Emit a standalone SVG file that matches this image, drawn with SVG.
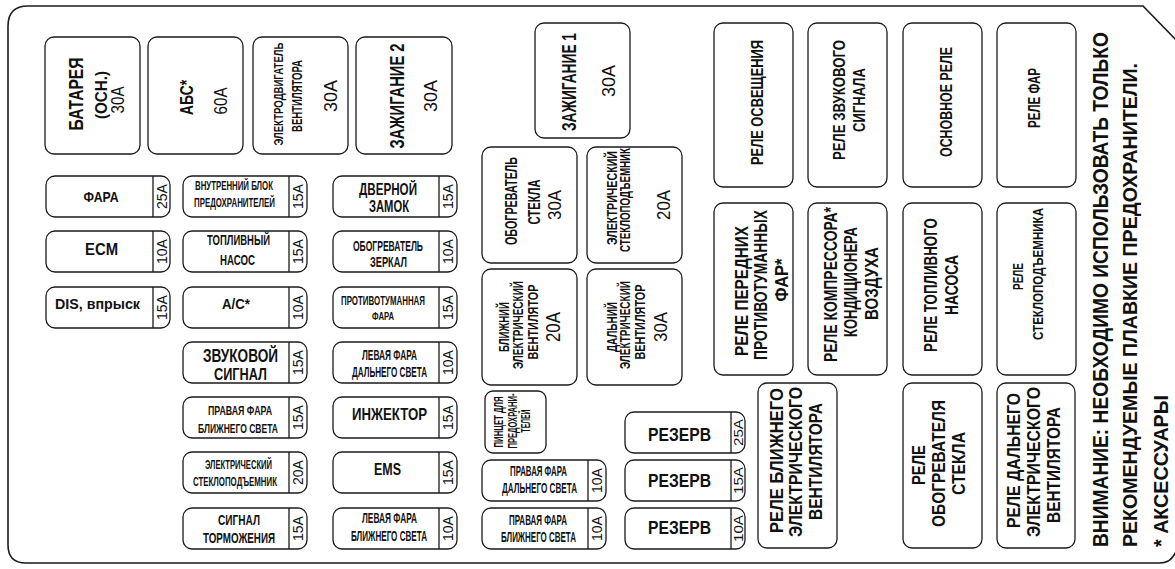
<svg xmlns="http://www.w3.org/2000/svg" width="1175" height="569" viewBox="0 0 1175 569">
<style>
.box{fill:#fff;stroke:#1a1a1a;stroke-width:1.3}
.dv{stroke:#1a1a1a;stroke-width:1.3}
.frame{fill:none;stroke:#1a1a1a;stroke-width:1.6}
text{font-family:"Liberation Sans",Arial,sans-serif;fill:#111}
.b{font-weight:bold}
.m{text-anchor:middle}
.a{font-size:15px;text-anchor:middle}
</style>
<rect width="1175" height="569" fill="#fff"/>
<path class="frame" d="M8,26 Q8,6 28,6 H1143 L1178,42 V545 Q1174,563 1160,563 H26 Q8,563 8,545 Z"/>

<!-- big fuses -->
<g id="fuse-battery">
<rect class="box" x="45" y="37" width="95" height="117" rx="9"/>
<text class="b m" x="83" y="94" transform="rotate(-90 83 94)" font-size="20" textLength="73" lengthAdjust="spacingAndGlyphs">БАТАРЕЯ</text>
<text class="b m" x="107" y="95" transform="rotate(-90 107 95)" font-size="16" textLength="48" lengthAdjust="spacingAndGlyphs">(ОСН.)</text>
<text class="m" x="124" y="100" transform="rotate(-90 124 100)" font-size="19" textLength="27" lengthAdjust="spacingAndGlyphs">30A</text>
</g>
<g id="fuse-abs">
<rect class="box" x="148" y="37" width="95" height="117" rx="9"/>
<text class="b m" x="193" y="97.5" transform="rotate(-90 193 97.5)" font-size="18" textLength="35" lengthAdjust="spacingAndGlyphs">АБС*</text>
<text class="m" x="227" y="101" transform="rotate(-90 227 101)" font-size="19" textLength="27" lengthAdjust="spacingAndGlyphs">60A</text>
</g>
<g id="fuse-fan-motor">
<rect class="box" x="253" y="37" width="95" height="117" rx="9"/>
<text class="b m" x="283" y="94" transform="rotate(-90 283 94)" font-size="13" textLength="103" lengthAdjust="spacingAndGlyphs">ЭЛЕКТРОДВИГАТЕЛЬ</text>
<text class="b m" x="302" y="96" transform="rotate(-90 302 96)" font-size="14" textLength="72" lengthAdjust="spacingAndGlyphs">ВЕНТИЛЯТОРА</text>
<text class="m" x="337" y="96" transform="rotate(-90 337 96)" font-size="19" textLength="32" lengthAdjust="spacingAndGlyphs">30A</text>
</g>
<g id="fuse-ign2">
<rect class="box" x="356" y="37" width="96" height="117" rx="9"/>
<text class="b m" x="404" y="96" transform="rotate(-90 404 96)" font-size="21" textLength="105" lengthAdjust="spacingAndGlyphs">ЗАЖИГАНИЕ 2</text>
<text class="m" x="437" y="96" transform="rotate(-90 437 96)" font-size="19" textLength="32" lengthAdjust="spacingAndGlyphs">30A</text>
</g>
<g id="fuse-ign1">
<rect class="box" x="535" y="23" width="95" height="115" rx="9"/>
<text class="b m" x="576" y="82" transform="rotate(-90 576 82)" font-size="21" textLength="98" lengthAdjust="spacingAndGlyphs">ЗАЖИГАНИЕ 1</text>
<text class="m" x="615" y="81" transform="rotate(-90 615 81)" font-size="18" textLength="32" lengthAdjust="spacingAndGlyphs">30A</text>
</g>
<g id="fuse-defrost">
<rect class="box" x="482" y="147" width="95" height="116" rx="9"/>
<text class="b m" x="517" y="201" transform="rotate(-90 517 201)" font-size="17" textLength="88" lengthAdjust="spacingAndGlyphs">ОБОГРЕВАТЕЛЬ</text>
<text class="b m" x="540" y="202" transform="rotate(-90 540 202)" font-size="17" textLength="45" lengthAdjust="spacingAndGlyphs">СТЕКЛА</text>
<text class="m" x="561" y="205" transform="rotate(-90 561 205)" font-size="18" textLength="30" lengthAdjust="spacingAndGlyphs">30A</text>
</g>
<g id="fuse-power-window">
<rect class="box" x="587" y="147" width="95" height="116" rx="9"/>
<text class="b m" x="617" y="198" transform="rotate(-90 617 198)" font-size="14" textLength="94" lengthAdjust="spacingAndGlyphs">ЭЛЕКТРИЧЕСКИЙ</text>
<text class="b m" x="630" y="200" transform="rotate(-90 630 200)" font-size="14" textLength="104" lengthAdjust="spacingAndGlyphs">СТЕКЛОПОДЪЕМНИК</text>
<text class="m" x="670" y="205" transform="rotate(-90 670 205)" font-size="18" textLength="30" lengthAdjust="spacingAndGlyphs">20A</text>
</g>
<g id="fuse-fan-near">
<rect class="box" x="482" y="269" width="95" height="116" rx="9"/>
<text class="b m" x="509" y="327" transform="rotate(-90 509 327)" font-size="14" textLength="50" lengthAdjust="spacingAndGlyphs">БЛИЖНИЙ</text>
<text class="b m" x="523" y="325" transform="rotate(-90 523 325)" font-size="14" textLength="88" lengthAdjust="spacingAndGlyphs">ЭЛЕКТРИЧЕСКИЙ</text>
<text class="b m" x="538" y="322" transform="rotate(-90 538 322)" font-size="14" textLength="75" lengthAdjust="spacingAndGlyphs">ВЕНТИЛЯТОР</text>
<text class="m" x="560" y="327" transform="rotate(-90 560 327)" font-size="20" textLength="30" lengthAdjust="spacingAndGlyphs">20A</text>
</g>
<g id="fuse-fan-far">
<rect class="box" x="587" y="269" width="95" height="116" rx="9"/>
<text class="b m" x="617" y="327" transform="rotate(-90 617 327)" font-size="14" textLength="50" lengthAdjust="spacingAndGlyphs">ДАЛЬНИЙ</text>
<text class="b m" x="630" y="325" transform="rotate(-90 630 325)" font-size="14" textLength="88" lengthAdjust="spacingAndGlyphs">ЭЛЕКТРИЧЕСКИЙ</text>
<text class="b m" x="645" y="322" transform="rotate(-90 645 322)" font-size="14" textLength="75" lengthAdjust="spacingAndGlyphs">ВЕНТИЛЯТОР</text>
<text class="m" x="667" y="327" transform="rotate(-90 667 327)" font-size="19" textLength="30" lengthAdjust="spacingAndGlyphs">30A</text>
</g>
<g id="fuse-puller">
<rect class="box" x="485" y="391" width="61" height="62" rx="8"/>
<text class="b m" x="503" y="422" transform="rotate(-90 503 422)" font-size="12" textLength="51" lengthAdjust="spacingAndGlyphs">ПИНЦЕТ ДЛЯ</text>
<text class="b m" x="517" y="421" transform="rotate(-90 517 421)" font-size="12" textLength="55" lengthAdjust="spacingAndGlyphs">ПРЕДОХРАНИ-</text>
<text class="b m" x="530" y="421" transform="rotate(-90 530 421)" font-size="12" textLength="23" lengthAdjust="spacingAndGlyphs">ТЕЛЕЙ</text>
</g>

<!-- column 1 small fuses -->
<g id="fuse-headlamp">
<rect class="box" x="46" y="176" width="124" height="41" rx="9"/><line class="dv" x1="153" y1="176" x2="153" y2="217"/>
<text class="b m" x="101" y="202" font-size="15" textLength="35" lengthAdjust="spacingAndGlyphs">ФАРА</text>
<text class="a" x="167" y="196.5" transform="rotate(-90 167 196.5)" textLength="25" lengthAdjust="spacingAndGlyphs">25A</text>
</g>
<g id="fuse-ecm">
<rect class="box" x="46" y="231" width="124" height="41" rx="9"/><line class="dv" x1="153" y1="231" x2="153" y2="272"/>
<text class="b m" x="101.5" y="255" font-size="16" textLength="33" lengthAdjust="spacingAndGlyphs">ECM</text>
<text class="a" x="167" y="251.5" transform="rotate(-90 167 251.5)" textLength="25" lengthAdjust="spacingAndGlyphs">10A</text>
</g>
<g id="fuse-dis">
<rect class="box" x="46" y="287" width="124" height="41" rx="9"/><line class="dv" x1="153" y1="287" x2="153" y2="328"/>
<text class="b m" x="97.5" y="309" font-size="15" textLength="85" lengthAdjust="spacingAndGlyphs">DIS, впрыск</text>
<text class="a" x="167" y="307.5" transform="rotate(-90 167 307.5)" textLength="25" lengthAdjust="spacingAndGlyphs">15A</text>
</g>

<!-- column 2 -->
<g id="fuse-inner-block">
<rect class="box" x="183" y="176" width="124" height="41" rx="9"/><line class="dv" x1="289" y1="176" x2="289" y2="217"/>
<text class="b m" x="234" y="190" font-size="12" textLength="78" lengthAdjust="spacingAndGlyphs">ВНУТРЕННИЙ БЛОК</text>
<text class="b m" x="234.5" y="207" font-size="12" textLength="81" lengthAdjust="spacingAndGlyphs">ПРЕДОХРАНИТЕЛЕЙ</text>
<text class="a" x="303" y="196.5" transform="rotate(-90 303 196.5)" textLength="25" lengthAdjust="spacingAndGlyphs">15A</text>
</g>
<g id="fuse-fuel-pump">
<rect class="box" x="183" y="231" width="124" height="41" rx="9"/><line class="dv" x1="289" y1="231" x2="289" y2="272"/>
<text class="b m" x="238.5" y="245" font-size="15" textLength="63" lengthAdjust="spacingAndGlyphs">ТОПЛИВНЫЙ</text>
<text class="b m" x="237.5" y="265" font-size="15" textLength="35" lengthAdjust="spacingAndGlyphs">НАСОС</text>
<text class="a" x="303" y="251.5" transform="rotate(-90 303 251.5)" textLength="25" lengthAdjust="spacingAndGlyphs">15A</text>
</g>
<g id="fuse-ac">
<rect class="box" x="183" y="287" width="124" height="41" rx="9"/><line class="dv" x1="289" y1="287" x2="289" y2="328"/>
<text class="b m" x="236" y="309" font-size="15" textLength="28" lengthAdjust="spacingAndGlyphs">A/C*</text>
<text class="a" x="303" y="307.5" transform="rotate(-90 303 307.5)" textLength="25" lengthAdjust="spacingAndGlyphs">10A</text>
</g>
<g id="fuse-horn">
<rect class="box" x="183" y="342" width="124" height="41" rx="9"/><line class="dv" x1="289" y1="342" x2="289" y2="383"/>
<text class="b m" x="240.5" y="362" font-size="18" textLength="75" lengthAdjust="spacingAndGlyphs">ЗВУКОВОЙ</text>
<text class="b m" x="240.5" y="380" font-size="17" textLength="53" lengthAdjust="spacingAndGlyphs">СИГНАЛ</text>
<text class="a" x="303" y="362.5" transform="rotate(-90 303 362.5)" textLength="25" lengthAdjust="spacingAndGlyphs">15A</text>
</g>
<g id="fuse-right-low">
<rect class="box" x="183" y="397" width="124" height="41" rx="9"/><line class="dv" x1="289" y1="397" x2="289" y2="438"/>
<text class="b m" x="240" y="415" font-size="13" textLength="64" lengthAdjust="spacingAndGlyphs">ПРАВАЯ ФАРА</text>
<text class="b m" x="238" y="433" font-size="13" textLength="80" lengthAdjust="spacingAndGlyphs">БЛИЖНЕГО СВЕТА</text>
<text class="a" x="303" y="417.5" transform="rotate(-90 303 417.5)" textLength="25" lengthAdjust="spacingAndGlyphs">15A</text>
</g>
<g id="fuse-window-small">
<rect class="box" x="183" y="452" width="124" height="41" rx="9"/><line class="dv" x1="289" y1="452" x2="289" y2="493"/>
<text class="b m" x="238.5" y="469" font-size="13" textLength="67" lengthAdjust="spacingAndGlyphs">ЭЛЕКТРИЧЕСКИЙ</text>
<text class="b m" x="235" y="486" font-size="13" textLength="84" lengthAdjust="spacingAndGlyphs">СТЕКЛОПОДЪЕМНИК</text>
<text class="a" x="303" y="472.5" transform="rotate(-90 303 472.5)" textLength="25" lengthAdjust="spacingAndGlyphs">20A</text>
</g>
<g id="fuse-stop">
<rect class="box" x="183" y="508" width="124" height="41" rx="9"/><line class="dv" x1="289" y1="508" x2="289" y2="549"/>
<text class="b m" x="239" y="525" font-size="15" textLength="42" lengthAdjust="spacingAndGlyphs">СИГНАЛ</text>
<text class="b m" x="239" y="543" font-size="15" textLength="72" lengthAdjust="spacingAndGlyphs">ТОРМОЖЕНИЯ</text>
<text class="a" x="303" y="528.5" transform="rotate(-90 303 528.5)" textLength="25" lengthAdjust="spacingAndGlyphs">15A</text>
</g>

<!-- column 3 -->
<g id="fuse-door-lock">
<rect class="box" x="333" y="176" width="124" height="41" rx="9"/><line class="dv" x1="439" y1="176" x2="439" y2="217"/>
<text class="b m" x="388" y="195" font-size="17" textLength="58" lengthAdjust="spacingAndGlyphs">ДВЕРНОЙ</text>
<text class="b m" x="389" y="212" font-size="17" textLength="40" lengthAdjust="spacingAndGlyphs">ЗАМОК</text>
<text class="a" x="453" y="196.5" transform="rotate(-90 453 196.5)" textLength="25" lengthAdjust="spacingAndGlyphs">15A</text>
</g>
<g id="fuse-mirror">
<rect class="box" x="333" y="231" width="124" height="41" rx="9"/><line class="dv" x1="439" y1="231" x2="439" y2="272"/>
<text class="b m" x="388" y="251" font-size="14" textLength="70" lengthAdjust="spacingAndGlyphs">ОБОГРЕВАТЕЛЬ</text>
<text class="b m" x="388.5" y="267" font-size="14" textLength="37" lengthAdjust="spacingAndGlyphs">ЗЕРКАЛ</text>
<text class="a" x="453" y="251.5" transform="rotate(-90 453 251.5)" textLength="25" lengthAdjust="spacingAndGlyphs">10A</text>
</g>
<g id="fuse-fog">
<rect class="box" x="333" y="287" width="124" height="41" rx="9"/><line class="dv" x1="439" y1="287" x2="439" y2="328"/>
<text class="b m" x="383" y="305" font-size="12" textLength="84" lengthAdjust="spacingAndGlyphs">ПРОТИВОТУМАННАЯ</text>
<text class="b m" x="383" y="320" font-size="11" textLength="22" lengthAdjust="spacingAndGlyphs">ФАРА</text>
<text class="a" x="453" y="307.5" transform="rotate(-90 453 307.5)" textLength="25" lengthAdjust="spacingAndGlyphs">15A</text>
</g>
<g id="fuse-left-high">
<rect class="box" x="333" y="342" width="124" height="41" rx="9"/><line class="dv" x1="439" y1="342" x2="439" y2="383"/>
<text class="b m" x="389.5" y="360" font-size="14" textLength="55" lengthAdjust="spacingAndGlyphs">ЛЕВАЯ ФАРА</text>
<text class="b m" x="389.5" y="377" font-size="14" textLength="75" lengthAdjust="spacingAndGlyphs">ДАЛЬНЕГО СВЕТА</text>
<text class="a" x="453" y="362.5" transform="rotate(-90 453 362.5)" textLength="25" lengthAdjust="spacingAndGlyphs">10A</text>
</g>
<g id="fuse-injector">
<rect class="box" x="333" y="397" width="124" height="41" rx="9"/><line class="dv" x1="439" y1="397" x2="439" y2="438"/>
<text class="b m" x="389.5" y="420" font-size="17" textLength="75" lengthAdjust="spacingAndGlyphs">ИНЖЕКТОР</text>
<text class="a" x="453" y="417.5" transform="rotate(-90 453 417.5)" textLength="25" lengthAdjust="spacingAndGlyphs">15A</text>
</g>
<g id="fuse-ems">
<rect class="box" x="333" y="452" width="124" height="41" rx="9"/><line class="dv" x1="439" y1="452" x2="439" y2="493"/>
<text class="b m" x="387.5" y="475" font-size="16" textLength="27" lengthAdjust="spacingAndGlyphs">EMS</text>
<text class="a" x="453" y="472.5" transform="rotate(-90 453 472.5)" textLength="25" lengthAdjust="spacingAndGlyphs">15A</text>
</g>
<g id="fuse-left-low">
<rect class="box" x="333" y="508" width="124" height="41" rx="9"/><line class="dv" x1="439" y1="508" x2="439" y2="549"/>
<text class="b m" x="389.5" y="523" font-size="14" textLength="55" lengthAdjust="spacingAndGlyphs">ЛЕВАЯ ФАРА</text>
<text class="b m" x="389" y="541" font-size="14" textLength="76" lengthAdjust="spacingAndGlyphs">БЛИЖНЕГО СВЕТА</text>
<text class="a" x="453" y="528.5" transform="rotate(-90 453 528.5)" textLength="25" lengthAdjust="spacingAndGlyphs">10A</text>
</g>

<!-- column 4 -->
<g id="fuse-right-high">
<rect class="box" x="482" y="460" width="124" height="41" rx="9"/><line class="dv" x1="588" y1="460" x2="588" y2="501"/>
<text class="b m" x="538.5" y="476" font-size="14" textLength="57" lengthAdjust="spacingAndGlyphs">ПРАВАЯ ФАРА</text>
<text class="b m" x="539.5" y="493" font-size="14" textLength="75" lengthAdjust="spacingAndGlyphs">ДАЛЬНЕГО СВЕТА</text>
<text class="a" x="602" y="480.5" transform="rotate(-90 602 480.5)" textLength="25" lengthAdjust="spacingAndGlyphs">10A</text>
</g>
<g id="fuse-right-low2">
<rect class="box" x="482" y="508" width="124" height="41" rx="9"/><line class="dv" x1="588" y1="508" x2="588" y2="549"/>
<text class="b m" x="538" y="525" font-size="14" textLength="58" lengthAdjust="spacingAndGlyphs">ПРАВАЯ ФАРА</text>
<text class="b m" x="538.5" y="542" font-size="14" textLength="75" lengthAdjust="spacingAndGlyphs">БЛИЖНЕГО СВЕТА</text>
<text class="a" x="602" y="528.5" transform="rotate(-90 602 528.5)" textLength="25" lengthAdjust="spacingAndGlyphs">10A</text>
</g>

<!-- spares -->
<g id="fuse-spare-25">
<rect class="box" x="625" y="412" width="120" height="41" rx="9"/><line class="dv" x1="731" y1="412" x2="731" y2="453"/>
<text class="b m" x="679.5" y="441" font-size="19" textLength="63" lengthAdjust="spacingAndGlyphs">РЕЗЕРВ</text>
<text class="m" x="743" y="432.5" transform="rotate(-90 743 432.5)" font-size="13" textLength="27" lengthAdjust="spacingAndGlyphs">25A</text>
</g>
<g id="fuse-spare-15">
<rect class="box" x="625" y="460" width="120" height="41" rx="9"/><line class="dv" x1="731" y1="460" x2="731" y2="501"/>
<text class="b m" x="679.5" y="487" font-size="19" textLength="63" lengthAdjust="spacingAndGlyphs">РЕЗЕРВ</text>
<text class="m" x="743" y="480.5" transform="rotate(-90 743 480.5)" font-size="13" textLength="27" lengthAdjust="spacingAndGlyphs">15A</text>
</g>
<g id="fuse-spare-10">
<rect class="box" x="625" y="508" width="120" height="41" rx="9"/><line class="dv" x1="731" y1="508" x2="731" y2="549"/>
<text class="b m" x="679.5" y="534" font-size="19" textLength="63" lengthAdjust="spacingAndGlyphs">РЕЗЕРВ</text>
<text class="m" x="743" y="528.5" transform="rotate(-90 743 528.5)" font-size="13" textLength="27" lengthAdjust="spacingAndGlyphs">10A</text>
</g>

<!-- relays -->
<g id="relay-light">
<rect class="box" x="714" y="23" width="79" height="164" rx="9"/>
<text class="b m" x="763" y="102.5" transform="rotate(-90 763 102.5)" font-size="17" textLength="125" lengthAdjust="spacingAndGlyphs">РЕЛЕ ОСВЕЩЕНИЯ</text>
</g>
<g id="relay-horn">
<rect class="box" x="808" y="23" width="79" height="164" rx="9"/>
<text class="b m" x="845" y="100" transform="rotate(-90 845 100)" font-size="17" textLength="120" lengthAdjust="spacingAndGlyphs">РЕЛЕ ЗВУКОВОГО</text>
<text class="b m" x="865" y="100" transform="rotate(-90 865 100)" font-size="17" textLength="64" lengthAdjust="spacingAndGlyphs">СИГНАЛА</text>
</g>
<g id="relay-main">
<rect class="box" x="903" y="23" width="79" height="164" rx="9"/>
<text class="b m" x="952" y="102" transform="rotate(-90 952 102)" font-size="17" textLength="110" lengthAdjust="spacingAndGlyphs">ОСНОВНОЕ РЕЛЕ</text>
</g>
<g id="relay-headlamp">
<rect class="box" x="997" y="23" width="79" height="164" rx="9"/>
<text class="b m" x="1040" y="98" transform="rotate(-90 1040 98)" font-size="16" textLength="60" lengthAdjust="spacingAndGlyphs">РЕЛЕ ФАР</text>
</g>
<g id="relay-fog">
<rect class="box" x="714" y="203" width="79" height="172" rx="9"/>
<text class="b m" x="748" y="291" transform="rotate(-90 748 291)" font-size="19" textLength="130" lengthAdjust="spacingAndGlyphs">РЕЛЕ ПЕРЕДНИХ</text>
<text class="b m" x="767" y="285" transform="rotate(-90 767 285)" font-size="19" textLength="150" lengthAdjust="spacingAndGlyphs">ПРОТИВОТУМАННЫХ</text>
<text class="b m" x="788" y="280" transform="rotate(-90 788 280)" font-size="19" textLength="43" lengthAdjust="spacingAndGlyphs">ФАР*</text>
</g>
<g id="relay-ac">
<rect class="box" x="808" y="203" width="79" height="172" rx="9"/>
<text class="b m" x="837" y="284.5" transform="rotate(-90 837 284.5)" font-size="19" textLength="155" lengthAdjust="spacingAndGlyphs">РЕЛЕ КОМПРЕССОРА*</text>
<text class="b m" x="857" y="282" transform="rotate(-90 857 282)" font-size="19" textLength="110" lengthAdjust="spacingAndGlyphs">КОНДИЦИОНЕРА</text>
<text class="b m" x="878" y="283.5" transform="rotate(-90 878 283.5)" font-size="19" textLength="73" lengthAdjust="spacingAndGlyphs">ВОЗДУХА</text>
</g>
<g id="relay-fuel">
<rect class="box" x="903" y="203" width="79" height="172" rx="9"/>
<text class="b m" x="937" y="285" transform="rotate(-90 937 285)" font-size="19" textLength="134" lengthAdjust="spacingAndGlyphs">РЕЛЕ ТОПЛИВНОГО</text>
<text class="b m" x="958" y="285" transform="rotate(-90 958 285)" font-size="19" textLength="60" lengthAdjust="spacingAndGlyphs">НАСОСА</text>
</g>
<g id="relay-window">
<rect class="box" x="997" y="203" width="79" height="172" rx="9"/>
<text class="b m" x="1023" y="276.5" transform="rotate(-90 1023 276.5)" font-size="14" textLength="27" lengthAdjust="spacingAndGlyphs">РЕЛЕ</text>
<text class="b m" x="1043" y="274" transform="rotate(-90 1043 274)" font-size="14" textLength="132" lengthAdjust="spacingAndGlyphs">СТЕКЛОПОДЪЕМНИКА</text>
</g>
<g id="relay-fan-near">
<rect class="box" x="758" y="383" width="79" height="165" rx="9"/>
<text class="b m" x="783" y="460.5" transform="rotate(-90 783 460.5)" font-size="19" textLength="145" lengthAdjust="spacingAndGlyphs">РЕЛЕ БЛИЖНЕГО</text>
<text class="b m" x="802" y="462" transform="rotate(-90 802 462)" font-size="19" textLength="150" lengthAdjust="spacingAndGlyphs">ЭЛЕКТРИЧЕСКОГО</text>
<text class="b m" x="822" y="461.5" transform="rotate(-90 822 461.5)" font-size="19" textLength="117" lengthAdjust="spacingAndGlyphs">ВЕНТИЛЯТОРА</text>
</g>
<g id="relay-defrost">
<rect class="box" x="903" y="383" width="79" height="165" rx="9"/>
<text class="b m" x="925" y="465" transform="rotate(-90 925 465)" font-size="18" textLength="40" lengthAdjust="spacingAndGlyphs">РЕЛЕ</text>
<text class="b m" x="945" y="463.5" transform="rotate(-90 945 463.5)" font-size="18" textLength="127" lengthAdjust="spacingAndGlyphs">ОБОГРЕВАТЕЛЯ</text>
<text class="b m" x="965" y="463.5" transform="rotate(-90 965 463.5)" font-size="18" textLength="63" lengthAdjust="spacingAndGlyphs">СТЕКЛА</text>
</g>
<g id="relay-fan-far">
<rect class="box" x="997" y="383" width="78" height="165" rx="9"/>
<text class="b m" x="1020" y="460.5" transform="rotate(-90 1020 460.5)" font-size="18" textLength="135" lengthAdjust="spacingAndGlyphs">РЕЛЕ ДАЛЬНЕГО</text>
<text class="b m" x="1040" y="462" transform="rotate(-90 1040 462)" font-size="18" textLength="150" lengthAdjust="spacingAndGlyphs">ЭЛЕКТРИЧЕСКОГО</text>
<text class="b m" x="1060" y="465" transform="rotate(-90 1060 465)" font-size="18" textLength="116" lengthAdjust="spacingAndGlyphs">ВЕНТИЛЯТОРА</text>
</g>

<!-- notes -->
<g id="notes">
<text class="b" x="1108" y="547" transform="rotate(-90 1108 547)" font-size="22" textLength="515" lengthAdjust="spacingAndGlyphs">ВНИМАНИЕ: НЕОБХОДИМО ИСПОЛЬЗОВАТЬ ТОЛЬКО</text>
<text class="b" x="1137" y="547" transform="rotate(-90 1137 547)" font-size="21" textLength="484" lengthAdjust="spacingAndGlyphs">РЕКОМЕНДУЕМЫЕ ПЛАВКИЕ ПРЕДОХРАНИТЕЛИ.</text>
<text class="b" x="1168" y="547" transform="rotate(-90 1168 547)" font-size="21" textLength="152" lengthAdjust="spacingAndGlyphs">* АКСЕССУАРЫ</text>
</g>
</svg>
